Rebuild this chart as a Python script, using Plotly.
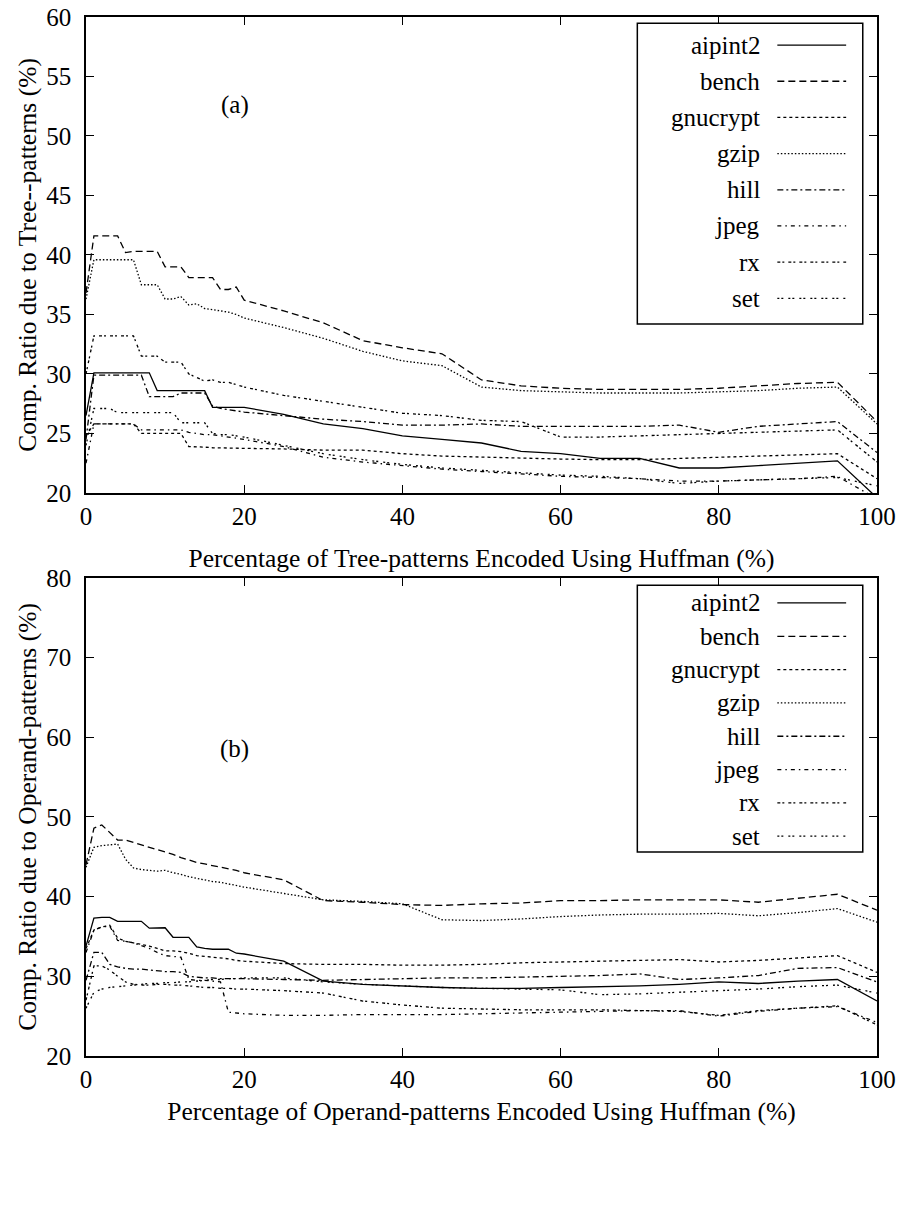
import plotly.graph_objects as go

# ---------------- data ----------------
x_pct = [0, 1, 2, 3, 4, 5, 6, 7, 8, 9, 10, 11, 12, 13, 14, 15, 16, 17, 18, 19, 20,
         25, 30, 35, 40, 45, 50, 55, 60, 65, 70, 75, 80, 85, 90, 95, 100]

benchmarks = ["aipint2", "bench", "gnucrypt", "gzip", "hill", "jpeg", "rx", "set"]

# (a) Tree-patterns
tree_aipint2 = [26.5, 30.1, 30.1, 30.1, 30.1, 30.1, 30.1, 30.1, 30.1, 28.6, 28.6, 28.6, 28.6, 28.6, 28.6, 28.6, 27.2, 27.2, 27.2, 27.2, 27.2,
                26.6, 25.8, 25.4, 24.8, 24.5, 24.2, 23.5, 23.3, 22.9, 22.9, 22.1, 22.1, 22.3, 22.5, 22.7, 19.6]
tree_bench = [36.8, 41.6, 41.6, 41.6, 41.6, 40.2, 40.3, 40.3, 40.3, 40.3, 39.0, 39.0, 39.0, 38.1, 38.1, 38.1, 38.1, 37.1, 37.1, 37.3, 36.2,
              35.3, 34.3, 32.8, 32.2, 31.7, 29.5, 29.0, 28.8, 28.7, 28.7, 28.7, 28.8, 29.0, 29.2, 29.3, 26.0]
tree_gnucrypt = [24.8, 25.8, 25.8, 25.8, 25.8, 25.8, 25.8, 25.0, 25.0, 25.0, 25.0, 25.0, 25.0, 23.9, 23.9, 23.85, 23.8, 23.8, 23.8, 23.75, 23.75,
                 23.7, 23.6, 23.6, 23.3, 23.1, 23.0, 22.9, 22.85, 22.8, 22.8, 22.9, 23.0, 23.1, 23.2, 23.3, 21.2]
tree_gzip = [36.3, 39.6, 39.6, 39.6, 39.6, 39.6, 39.6, 37.5, 37.5, 37.5, 36.3, 36.3, 36.5, 35.8, 35.9, 35.5, 35.4, 35.3, 35.2, 35.0, 34.7,
             33.9, 33.0, 31.9, 31.1, 30.7, 28.9, 28.6, 28.5, 28.4, 28.4, 28.4, 28.5, 28.6, 28.8, 28.9, 25.8]
tree_hill = [24.5, 29.9, 29.9, 29.9, 29.9, 29.9, 29.9, 29.9, 28.1, 28.1, 28.1, 28.1, 28.4, 28.4, 28.4, 28.4, 27.3, 27.1, 27.0, 26.9, 26.8,
             26.5, 26.2, 26.0, 25.7, 25.7, 25.8, 25.6, 25.6, 25.6, 25.6, 25.7, 25.1, 25.6, 25.8, 26.0, 23.4]
tree_jpeg = [22.5, 25.8, 25.8, 25.8, 25.8, 25.8, 25.8, 25.3, 25.3, 25.3, 25.3, 25.3, 25.3, 25.1, 25.0, 24.9, 24.9, 24.8, 24.7, 24.6, 24.5,
             23.9, 23.0, 22.6, 22.3, 22.0, 21.8, 21.6, 21.4, 21.3, 21.2, 21.0, 21.0, 21.1, 21.2, 21.4, 19.5]
tree_rx = [30.0, 33.2, 33.2, 33.2, 33.2, 33.2, 33.2, 31.5, 31.5, 31.5, 31.0, 31.0, 31.0, 30.0, 29.7, 29.4, 29.5, 29.3, 29.3, 29.1, 28.9,
           28.2, 27.7, 27.2, 26.7, 26.5, 26.1, 26.0, 24.7, 24.7, 24.8, 24.9, 25.0, 25.1, 25.2, 25.3, 22.6]
tree_set = [24.0, 27.1, 27.1, 27.1, 26.75, 26.75, 26.75, 26.75, 26.75, 26.75, 26.75, 26.75, 25.9, 25.9, 25.9, 25.9, 25.0, 24.9, 24.9, 24.8, 24.7,
            24.0, 23.3, 22.8, 22.4, 22.1, 21.9, 21.7, 21.5, 21.4, 21.2, 20.8, 21.0, 21.1, 21.2, 21.3, 20.6]

# (b) Operand-patterns
op_aipint2 = [33.8, 37.3, 37.4, 37.4, 36.9, 36.9, 36.9, 36.9, 36.05, 36.1, 36.1, 34.9, 34.9, 34.9, 33.7, 33.5, 33.4, 33.4, 33.4, 32.9, 32.8,
              31.9, 29.4, 29.0, 28.8, 28.6, 28.5, 28.5, 28.6, 28.7, 28.8, 29.0, 29.3, 29.1, 29.4, 29.6, 26.9]
op_bench = [44.0, 48.6, 49.0, 48.0, 47.1, 47.1, 46.8, 46.5, 46.2, 45.9, 45.6, 45.3, 44.9, 44.6, 44.3, 44.1, 43.9, 43.7, 43.5, 43.3, 43.0,
            42.1, 39.5, 39.3, 39.0, 38.9, 39.1, 39.2, 39.5, 39.5, 39.6, 39.6, 39.6, 39.3, 39.8, 40.3, 38.3]
op_gnucrypt = [33.5, 35.8, 36.2, 36.4, 34.8, 34.4, 34.2, 34.0, 33.8, 33.5, 33.2, 33.2, 33.1, 32.9, 32.6, 32.5, 32.4, 32.3, 32.2, 32.0, 31.9,
               31.6, 31.5, 31.5, 31.4, 31.4, 31.5, 31.7, 31.8, 31.9, 32.0, 32.1, 31.8, 32.0, 32.3, 32.6, 30.5]
op_gzip = [43.7, 46.2, 46.4, 46.5, 46.6, 44.7, 43.6, 43.4, 43.3, 43.2, 43.3, 43.0, 42.8, 42.5, 42.3, 42.1, 41.9, 41.8, 41.6, 41.4, 41.2,
           40.4, 39.6, 39.4, 39.1, 37.1, 37.0, 37.2, 37.5, 37.7, 37.8, 37.8, 37.9, 37.6, 38.0, 38.5, 36.8]
op_hill = [29.5, 33.0, 33.0, 31.5, 31.2, 31.0, 30.9, 30.9, 30.8, 30.7, 30.6, 30.6, 30.5, 30.0, 29.9, 29.8, 29.8, 29.7, 29.7, 29.7, 29.7,
           29.6, 29.5, 29.6, 29.7, 29.8, 29.8, 29.9, 30.0, 30.1, 30.3, 29.6, 29.8, 30.1, 31.0, 31.1, 29.3]
op_jpeg = [33.0, 35.8, 36.2, 36.3, 34.5, 34.4, 34.2, 33.8, 33.5, 33.0, 32.6, 32.5, 32.4, 29.6, 29.5, 29.5, 29.4, 29.3, 25.5, 25.4, 25.3,
           25.1, 25.1, 25.2, 25.2, 25.2, 25.3, 25.4, 25.5, 25.6, 25.7, 25.7, 25.0, 25.6, 26.0, 26.2, 24.2]
op_rx = [27.0, 31.3, 31.3, 30.8, 30.0, 29.3, 29.0, 28.9, 28.9, 29.0, 29.0, 28.9, 28.9, 28.8, 28.7, 28.6, 28.6, 28.5, 28.5, 28.4, 28.4,
         28.2, 27.9, 26.9, 26.4, 26.0, 25.9, 25.8, 25.8, 25.8, 25.7, 25.6, 25.1, 25.7, 26.0, 26.3, 23.9]
op_set = [26.0, 28.0, 28.4, 28.6, 28.7, 28.8, 28.9, 29.0, 29.1, 29.1, 29.2, 29.2, 29.3, 29.3, 29.4, 29.5, 29.6, 29.6, 29.7, 29.7, 29.8,
          29.8, 29.3, 29.0, 28.8, 28.6, 28.5, 28.4, 28.3, 27.7, 27.8, 28.0, 28.2, 28.4, 28.7, 28.9, 27.9]

x_ticks = [0, 20, 40, 60, 80, 100]
tree_y_ticks = [20, 25, 30, 35, 40, 45, 50, 55, 60]
op_y_ticks = [20, 30, 40, 50, 60, 70, 80]

tree_series = [tree_aipint2, tree_bench, tree_gnucrypt, tree_gzip, tree_hill, tree_jpeg, tree_rx, tree_set]
op_series = [op_aipint2, op_bench, op_gnucrypt, op_gzip, op_hill, op_jpeg, op_rx, op_set]

# ---------------- styles ----------------
dashes = {
    "aipint2": "solid",
    "bench": "7px,4px",
    "gnucrypt": "3px,3px",
    "gzip": "1.5px,2px",
    "hill": "6px,3px,2px,3px",
    "jpeg": "4px,4px,1.5px,4px",
    "rx": "3px,2px,2px,4px",
    "set": "2px,2px,2px,5px",
}
FONT = "Liberation Serif, Times New Roman, serif"
FS = 25
LW = 1.3

fig = go.Figure()

for name, ys in zip(benchmarks, tree_series):
    fig.add_trace(go.Scatter(x=x_pct, y=ys, mode="lines", name=name, xaxis="x", yaxis="y",
                             line=dict(color="black", width=LW, dash=dashes[name]), showlegend=False))
for name, ys in zip(benchmarks, op_series):
    fig.add_trace(go.Scatter(x=x_pct, y=ys, mode="lines", name=name, xaxis="x2", yaxis="y2",
                             line=dict(color="black", width=LW, dash=dashes[name]), showlegend=False))

axis_common = dict(showline=True, linecolor="black", linewidth=1.5, mirror="ticks",
                   ticks="inside", ticklen=8, tickwidth=1.2, tickcolor="black", automargin=False,
                   showgrid=False, zeroline=False, tickfont=dict(family=FONT, size=FS, color="black"))

top_dom = [0.5419, 1.0]
bot_dom = [0.0, 0.4601]

fig.update_layout(
    width=899, height=1224,
    margin=dict(l=86, r=22, t=17, b=168),
    paper_bgcolor="white", plot_bgcolor="white",
    font=dict(family=FONT, size=FS, color="black"),
    xaxis=dict(axis_common, domain=[0, 1], anchor="y", range=[0, 100], tickvals=x_ticks,
               title=dict(text="Percentage of Tree-patterns Encoded Using Huffman (%)",
                          font=dict(family=FONT, size=25.5), standoff=20)),
    yaxis=dict(axis_common, domain=top_dom, anchor="x", range=[20, 60], tickvals=tree_y_ticks,
               ticklabelstandoff=8,
               title=dict(text="Comp. Ratio due to Tree--patterns (%)",
                          font=dict(family=FONT, size=25.5), standoff=2)),
    xaxis2=dict(axis_common, domain=[0, 1], anchor="y2", range=[0, 100], tickvals=x_ticks,
                title=dict(text="Percentage of Operand-patterns Encoded Using Huffman (%)",
                           font=dict(family=FONT, size=25.5), standoff=10)),
    yaxis2=dict(axis_common, domain=bot_dom, anchor="x2", range=[20, 80], tickvals=op_y_ticks,
                ticklabelstandoff=8,
                title=dict(text="Comp. Ratio due to Operand-patterns (%)",
                           font=dict(family=FONT, size=25.5), standoff=2)),
)

# ---------------- panel labels ----------------
fig.add_annotation(x=18.8, y=52.6, xref="x", yref="y", text="(a)", showarrow=False,
                   font=dict(family=FONT, size=FS, color="black"))
fig.add_annotation(x=18.8, y=58.5, xref="x2", yref="y2", text="(b)", showarrow=False,
                   font=dict(family=FONT, size=FS, color="black"))

# ---------------- custom legends (text left of sample, like gnuplot) ----------------
def add_key(xr, yr, box_y0, box_y1, first_y, step):
    fig.add_shape(type="rect", xref=xr, yref=yr, x0=0.697, x1=0.982, y0=box_y0, y1=box_y1,
                  line=dict(color="black", width=1.5), fillcolor="white", layer="above")
    for i, name in enumerate(benchmarks):
        yy = first_y - i * step
        fig.add_annotation(x=0.855, y=yy, xref=xr, yref=yr, text=name, showarrow=False,
                           xanchor="right", yanchor="middle",
                           font=dict(family=FONT, size=FS, color="black"))
        fig.add_shape(type="line", xref=xr, yref=yr, x0=0.874, x1=0.961, y0=yy, y1=yy,
                      line=dict(color="black", width=LW, dash=dashes[name]), layer="above")

add_key("x domain", "y domain", 0.355, 0.987, 0.941, 0.076)
add_key("x2 domain", "y2 domain", 0.427, 0.985, 0.9477, 0.0697)

fig.write_html("out.html", config={"displayModeBar": False},
               post_script="document.body.style.margin='0';document.body.style.overflow='hidden';")
